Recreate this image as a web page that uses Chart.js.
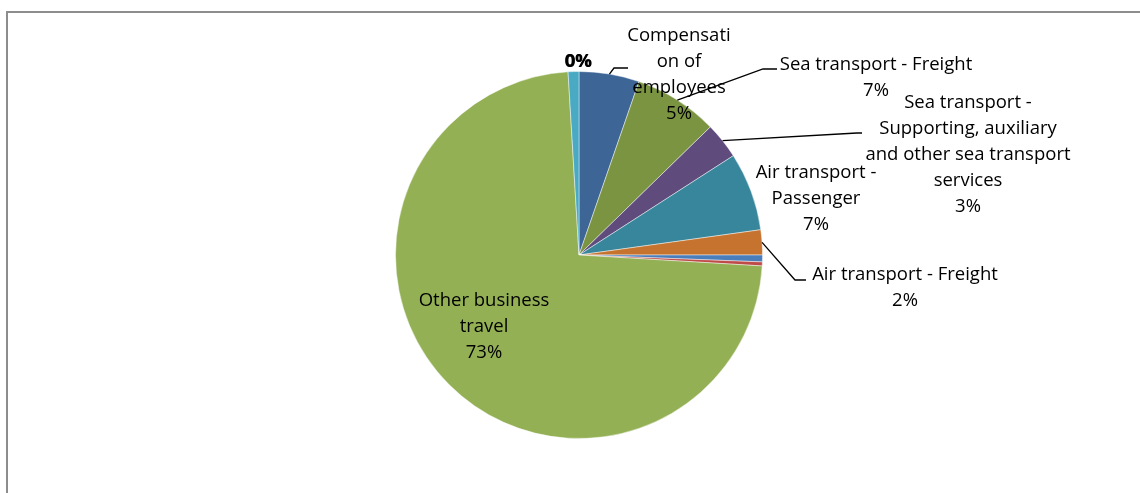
<!DOCTYPE html>
<html>
<head>
<meta charset="utf-8">
<script src="https://cdn.jsdelivr.net/npm/chart.js@4.4.1/dist/chart.umd.min.js"></script>
<style>
  html, body { margin: 0; padding: 0; background: #ffffff; overflow: hidden; }
  #wrap { position: relative; width: 1140px; height: 493px; }
  #frame { position: absolute; left: 6px; top: 11px; width: 1300px; height: 700px;
           border-left: 2px solid #8d8d8d; border-top: 2px solid #8d8d8d; box-sizing: border-box; }
  canvas { position: absolute; left: 0; top: 0; }
</style>
</head>
<body>
<div id="wrap">
  <div id="frame"></div>
  <canvas id="pie" width="1140" height="493"></canvas>
</div>
<script>
// Services breakdown, shares in percent, clockwise from 12 o'clock
const categories = [
  'Compensation of employees',
  'Sea transport - Freight',
  'Sea transport - Supporting, auxiliary and other sea transport services',
  'Air transport - Passenger',
  'Air transport - Freight',
  'Sea transport - Passenger',
  'Air transport - Supporting, auxiliary and other air transport services',
  'Other business travel',
  'Personal travel',
  'Other transport - Passenger',
  'Other transport - Freight'
];
const shares = [5.3, 7.4, 3.2, 6.9, 2.2, 0.6, 0.35, 73.1, 0.95, 0, 0];
const sliceColors = [
  '#3d6596', '#7a9442', '#604b7d', '#37869b', '#c5732f',
  '#4a7ebb', '#be4b48', '#93b055', '#4aaac4', '#4aaac4', '#4aaac4'
];

// Wrapped label lines per slice (null = no label); the share line is appended
const labelLines = [
  ['Compensati', 'on of', 'employees'],
  ['Sea transport - Freight'],
  ['Sea transport -', 'Supporting, auxiliary', 'and other sea transport', 'services'],
  ['Air transport -', 'Passenger'],
  ['Air transport - Freight'],
  null,
  null,
  ['Other business', 'travel'],
  null,
  [],
  []
];

// Label placement: text centre x, first baseline y, optional leader elbow + end
const labelLayout = [
  { x: 679, y: 41, elbow: [614, 68], end: [628, 68] },
  { x: 876, y: 70, elbow: [763, 69], end: [777, 69] },
  { x: 968, y: 108, elbow: [857, 133], end: [862, 133] },
  { x: 816, y: 178 },
  { x: 905, y: 280, elbow: [795, 280], end: [806, 280] },
  null,
  null,
  { x: 484, y: 306 },
  null,
  { x: 578, y: 67, bold: true },
  { x: 578.5, y: 67, bold: true }
];

const FONT = '"Open Sans", "Liberation Sans", sans-serif';
const FONT_SIZE = 18.5;
const LINE_H = 26;

const pieLabels = {
  id: 'pieLabels',
  afterDatasetsDraw(chart) {
    const ctx = chart.ctx;
    const arcs = chart.getDatasetMeta(0).data;
    ctx.save();
    arcs.forEach((arc, i) => {
      const lay = labelLayout[i];
      const lines = labelLines[i];
      if (!lay || !lines) return;
      const { x, y, startAngle, endAngle, outerRadius } = arc.getProps(['x', 'y', 'startAngle', 'endAngle', 'outerRadius'], true);
      if (lay.elbow) {
        const mid = (startAngle + endAngle) / 2;
        const sx = x + Math.cos(mid) * outerRadius;
        const sy = y + Math.sin(mid) * outerRadius;
        ctx.beginPath();
        ctx.strokeStyle = '#000000';
        ctx.lineWidth = 1.3;
        ctx.moveTo(sx, sy);
        ctx.lineTo(lay.elbow[0], lay.elbow[1]);
        ctx.lineTo(lay.end[0], lay.end[1]);
        ctx.stroke();
      }
      const text = lines.concat([Math.round(shares[i]) + '%']);
      ctx.fillStyle = '#000000';
      ctx.textAlign = 'center';
      ctx.textBaseline = 'alphabetic';
      ctx.font = (lay.bold ? 'bold ' : '') + FONT_SIZE + 'px ' + FONT;
      text.forEach((t, k) => ctx.fillText(t, lay.x, lay.y + k * LINE_H));
    });
    ctx.restore();
  }
};

new Chart(document.getElementById('pie'), {
  type: 'pie',
  data: {
    labels: categories,
    datasets: [{
      data: shares,
      backgroundColor: sliceColors,
      borderColor: 'rgba(255,255,255,0.45)',
      borderWidth: shares.map(v => (v > 0 ? 1 : 0))
    }]
  },
  options: {
    responsive: false,
    animation: false,
    layout: { padding: { left: 395, right: 377, top: 71, bottom: 54 } },
    plugins: { legend: { display: false }, tooltip: { enabled: false } }
  },
  plugins: [pieLabels]
});
</script>
</body>
</html>
